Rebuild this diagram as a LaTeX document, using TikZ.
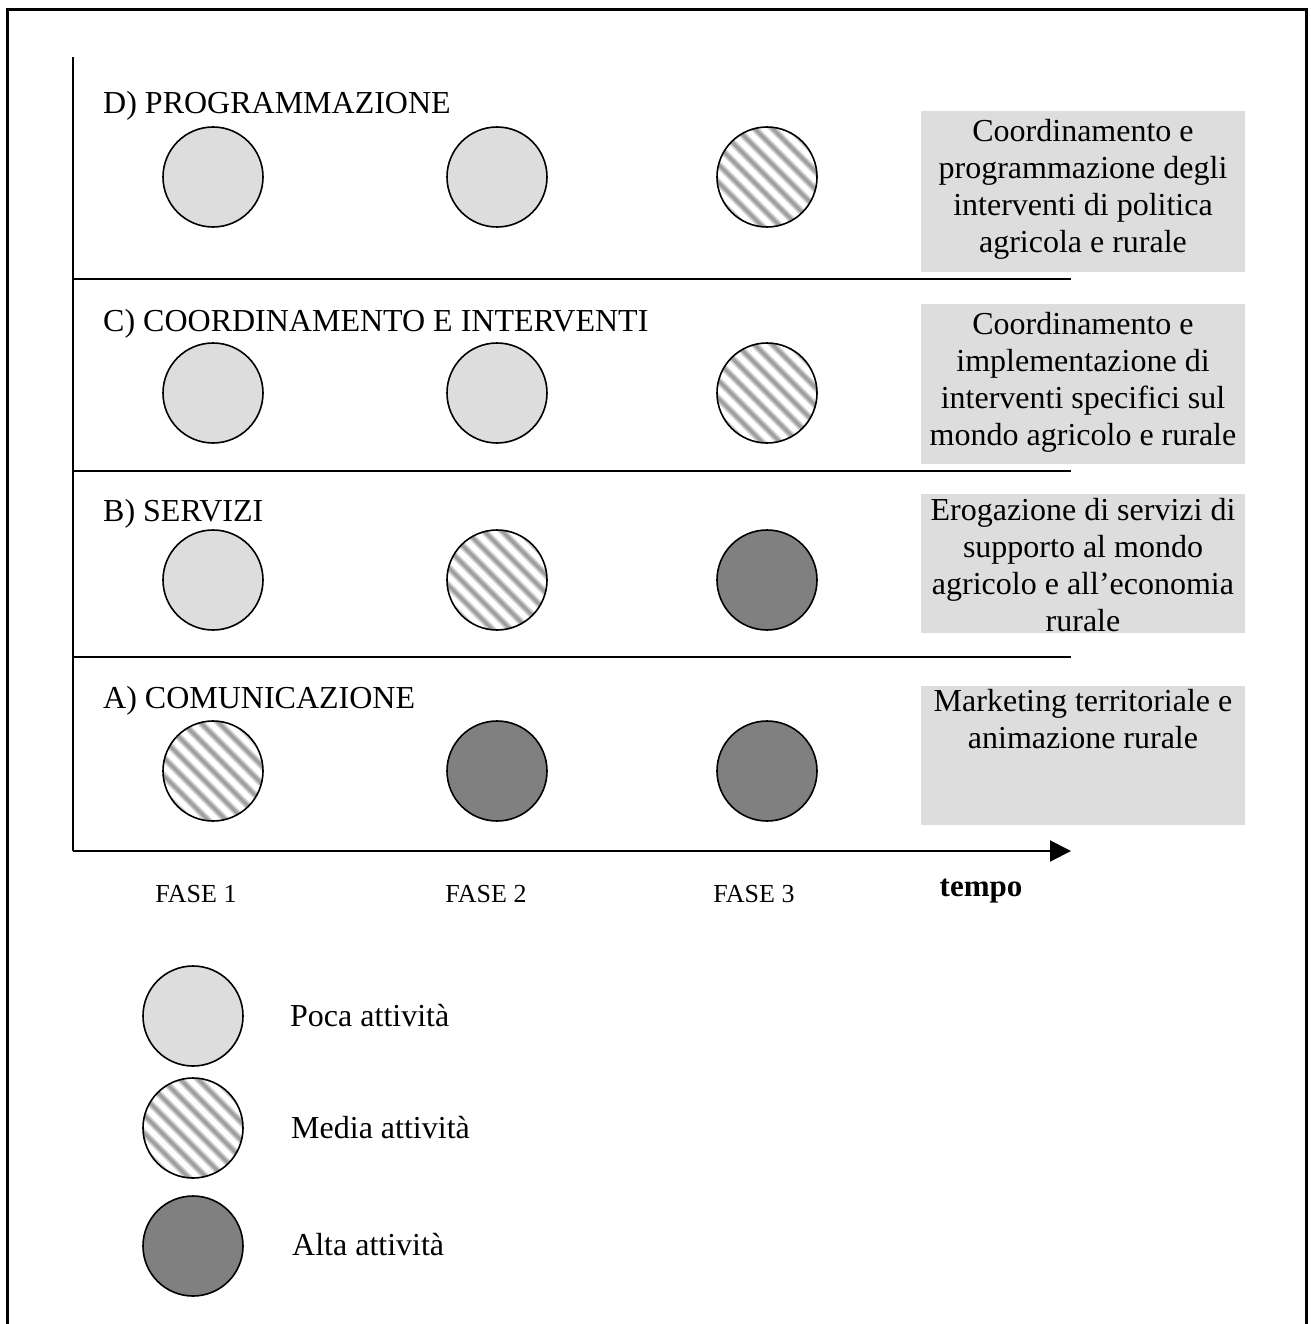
\documentclass[tikz,border=0pt]{standalone}
\usepackage{fontspec}
\setmainfont{Liberation Serif}
\usetikzlibrary{arrows.meta,calc}
\definecolor{lightfill}{RGB}{221,221,221}
\definecolor{darkfill}{RGB}{128,128,128}
\definecolor{stripeA}{RGB}{205,205,205}
\definecolor{stripeB}{RGB}{160,160,160}
\tikzset{
  bubble/.style={circle, draw=black, line width=1.6pt, minimum size=100pt, inner sep=0pt},
  poca/.style={bubble, fill=lightfill},
  alta/.style={bubble, fill=darkfill},
  media/.style={bubble, fill=white, path picture={
    \foreach \k in {-8,...,8}{
      \draw[stripeA, line width=7pt] ($(path picture bounding box.center)+(\k*9pt,\k*9pt)$) ++(-80pt,80pt) -- ++(160pt,-160pt);
      \draw[stripeB, line width=3.5pt] ($(path picture bounding box.center)+(\k*9pt,\k*9pt)$) ++(-80pt,80pt) -- ++(160pt,-160pt);
    }}},
  big/.style={font=\fontsize{32}{37}\selectfont, inner sep=0pt},
  small/.style={font=\fontsize{26}{30}\selectfont, inner sep=0pt},
  rowlabel/.style={big, anchor=base west},
  graybox/.style={fill=lightfill, minimum width=324pt, inner sep=0pt, anchor=north west},
  boxtext/.style={big, align=center, anchor=north},
  axis/.style={line width=2pt},
  sepline/.style={line width=2pt},
}
\begin{document}
\begin{tikzpicture}[x=1pt, y=-1pt]
\useasboundingbox (0,0) rectangle (1310,1324);
% frame (open at bottom)
\coordinate (fbl) at (7,1324);
\coordinate (ftl) at (7,10);
\coordinate (ftr) at (1306,10);
\coordinate (fbr) at (1306,1324);
\draw[line width=3pt] (fbl) -- (ftl) -- (ftr) -- (fbr);

% axes
\coordinate (O) at (73,851);
\coordinate (ytop) at (73,57);
\coordinate (xend) at (1071,851);
\draw[axis] (O) -- (ytop);
\draw[axis, -{Triangle[length=21pt,width=21pt]}] (O) -- (xend);

% separators
\coordinate (s1l) at (73,279);  \coordinate (s1r) at (1071,279);
\coordinate (s2l) at (73,471);  \coordinate (s2r) at (1071,471);
\coordinate (s3l) at (73,657);  \coordinate (s3r) at (1071,657);
\draw[sepline] (s1l) -- (s1r);
\draw[sepline] (s2l) -- (s2r);
\draw[sepline] (s3l) -- (s3r);

% row labels
\node[rowlabel] (labD) at (103,114) {D) PROGRAMMAZIONE};
\node[rowlabel] (labC) at (103,331) {C) COORDINAMENTO E INTERVENTI};
\node[rowlabel] (labB) at (103,521) {B) SERVIZI};
\node[rowlabel] (labA) at (103,708) {A) COMUNICAZIONE};

% circles
\node[poca]  (d1) at (213,177) {};
\node[poca]  (d2) at (497,177) {};
\node[media] (d3) at (767,177) {};
\node[poca]  (c1) at (213,393) {};
\node[poca]  (c2) at (497,393) {};
\node[media] (c3) at (767,393) {};
\node[poca]  (b1) at (213,580) {};
\node[media] (b2) at (497,580) {};
\node[alta]  (b3) at (767,580) {};
\node[media] (a1) at (213,771) {};
\node[alta]  (a2) at (497,771) {};
\node[alta]  (a3) at (767,771) {};

% gray boxes
\node[graybox, minimum height=161pt] (boxD) at (921,111) {};
\node[graybox, minimum height=160pt] (boxC) at (921,304) {};
\node[graybox, minimum height=139pt] (boxB) at (921,494) {};
\node[graybox, minimum height=139pt] (boxA) at (921,686) {};
\node[boxtext] (txtD) at (1083,119) {Coordinamento e\\programmazione degli\\interventi di politica\\agricola e rurale};
\node[boxtext] (txtC) at (1083,312) {Coordinamento e\\implementazione di\\interventi specifici sul\\mondo agricolo e rurale};
\node[boxtext] (txtB) at (1083,498) {Erogazione di servizi di\\supporto al mondo\\agricolo e all’economia\\rurale};
\node[boxtext] (txtA) at (1083,689) {Marketing territoriale e\\animazione rurale};

% phase labels
\node[small, anchor=base] (f1) at (196,902) {FASE 1};
\node[small, anchor=base] (f2) at (486,902) {FASE 2};
\node[small, anchor=base] (f3) at (754,902) {FASE 3};
\node[font=\fontsize{31}{36}\selectfont\bfseries, inner sep=0pt, anchor=base] (tempo) at (981,896) {tempo};

% legend
\node[poca]  (lp) at (193,1016) {};
\node[media] (lm) at (193,1128) {};
\node[alta]  (la) at (193,1246) {};
\node[big, anchor=base west] (tp) at (290,1026) {Poca attività};
\node[big, anchor=base west] (tm) at (291,1138) {Media attività};
\node[big, anchor=base west] (ta) at (292,1255) {Alta attività};
\end{tikzpicture}
\end{document}
